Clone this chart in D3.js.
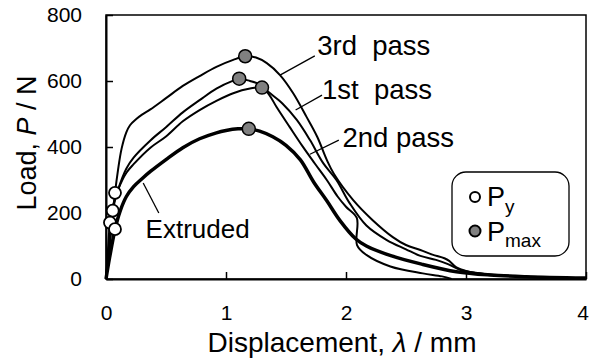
<!DOCTYPE html>
<html>
<head>
<meta charset="utf-8">
<script src="https://cdn.jsdelivr.net/npm/d3@7"></script>
<style>
  html, body { margin: 0; padding: 0; background: #fff; }
  svg { display: block; font-family: "Liberation Sans", Arial, sans-serif; }
</style>
</head>
<body>
<svg id="chart" width="589" height="360"></svg>
<script>
// ---- data (displacement mm, load N) ----
const xTicks = [0, 1, 2, 3, 4];
const yTicks = [0, 200, 400, 600, 800];

const pass3 = [[0,0],[0.02,60],[0.045,150],[0.075,260],[0.1,330],[0.13,395],[0.17,445],[0.2,466],[0.25,484],[0.3,498],[0.37,514],[0.5,548],[0.64,585],[0.78,615],[0.92,643],[1.06,664],[1.16,675],[1.25,671],[1.34,654],[1.45,618],[1.56,563],[1.67,492],[1.76,431],[1.84,361],[1.9,318],[2.06,239],[2.22,179],[2.39,127],[2.5,103],[2.62,88],[2.72,74],[2.82,63],[2.86,55],[2.92,35],[3.0,24],[3.2,13],[3.5,7],[4.0,2]];

const pass1 = [[0,0],[0.02,80],[0.056,207],[0.1,270],[0.17,335],[0.23,368],[0.37,420],[0.5,460],[0.64,505],[0.78,542],[0.92,577],[1.06,601],[1.11,607],[1.2,600],[1.28,590],[1.36,565],[1.47,532],[1.59,482],[1.7,421],[1.81,351],[1.92,300],[2.03,230],[2.17,162],[2.34,118],[2.5,90],[2.62,70],[2.75,58],[2.85,45],[2.95,28],[3.05,20],[3.3,11],[3.6,6],[4.0,2]];

const pass2 = [[0,0],[0.015,80],[0.033,170],[0.06,225],[0.1,270],[0.17,322],[0.23,348],[0.37,398],[0.5,432],[0.64,478],[0.78,512],[0.92,540],[1.06,563],[1.2,577],[1.3,580],[1.36,558],[1.42,522],[1.53,461],[1.64,401],[1.74,350],[1.84,300],[1.93,250],[2.0,219],[2.09,185],[2.092,103],[2.17,73],[2.37,38],[2.64,17],[2.8,8],[2.88,0]];

const extruded = [[0,0],[0.03,65],[0.075,150],[0.117,205],[0.17,250],[0.23,280],[0.3,304],[0.37,326],[0.5,362],[0.64,398],[0.78,425],[0.92,443],[1.0,450],[1.1,455],[1.19,455],[1.28,448],[1.39,431],[1.5,405],[1.62,361],[1.73,294],[1.84,237],[1.95,177],[2.08,122],[2.17,100],[2.38,70],[2.63,45],[2.92,22],[3.2,12],[3.5,7],[4.0,3]];

const pyPoints = [[0.075,261],[0.056,207],[0.033,171],[0.075,151]];
const pmaxPoints = [[1.16,675],[1.11,607],[1.30,580],[1.19,455]];

const curveLabels = ["3rd\u00a0\u00a0pass", "1st\u00a0\u00a0pass", "2nd pass", "Extruded"];
// leader anchors in data units: [point on curve, point near label]
const leaders = [
  [[1.45,618],[1.74,676]],
  [[1.58,512],[1.80,557]],
  [[1.70,378],[1.94,421]],
  [[0.31,291],[0.44,200]]
];
const labelPos = [[1.76,680],[1.80,545],[1.97,400],[0.33,123]];
const labelSize = [27.5, 27.5, 27.5, 26];

// ---- layout ----
const svg = d3.select("#chart");
const mLeft = 106, mRight = 586, mTop = 15, mBottom = 279;
const x = d3.scaleLinear().domain([0, 4]).range([mLeft, mRight]);
const y = d3.scaleLinear().domain([0, 800]).range([mBottom, mTop]);

// frame
svg.append("rect").attr("x", mLeft).attr("y", mTop)
  .attr("width", mRight - mLeft).attr("height", mBottom - mTop)
  .attr("fill", "none").attr("stroke", "#000").attr("stroke-width", 1.5);

// axes with inward ticks
const xAxis = d3.axisBottom(x).tickValues(xTicks).tickSizeInner(-7).tickSizeOuter(0).tickPadding(26).tickFormat(d3.format("d"));
const gx = svg.append("g").attr("transform", `translate(0,${mBottom})`).call(xAxis);
const yAxis = d3.axisLeft(y).tickValues(yTicks).tickSizeInner(-7).tickSizeOuter(0).tickPadding(24).tickFormat(d3.format("d"));
const gy = svg.append("g").attr("transform", `translate(${mLeft},0)`).call(yAxis);
[gx, gy].forEach(g => {
  g.select(".domain").attr("stroke", "#000").attr("stroke-width", 2);
  g.selectAll(".tick line").attr("stroke", "#000").attr("stroke-width", 1.5);
  g.selectAll(".tick text").attr("fill", "#000").attr("font-size", 21)
    .attr("font-family", "'Liberation Sans', Arial, sans-serif");
});
// keep the last x label inside the picture
gx.selectAll(".tick text").filter(d => d === 4).attr("text-anchor", "end").attr("x", 2.5);

// axis titles
svg.append("text").attr("x", (mLeft + mRight) / 2 - 4).attr("y", 352)
  .attr("text-anchor", "middle").attr("font-size", 28)
  .html('Displacement, <tspan font-style="italic">λ</tspan> / mm');
svg.append("text").attr("transform", `translate(36,${(mTop + mBottom) / 2 - 4}) rotate(-90)`)
  .attr("text-anchor", "middle").attr("font-size", 27)
  .html('Load, <tspan font-style="italic">P</tspan> / N');

// curves
const line = d3.line().x(d => x(d[0])).y(d => y(d[1])).curve(d3.curveCatmullRom.alpha(0.5));
const series = [
  {data: pass3, w: 2},
  {data: pass1, w: 2},
  {data: pass2, w: 2},
  {data: extruded, w: 3.5}
];
svg.append("g").selectAll("path").data(series).join("path")
  .attr("d", d => line(d.data)).attr("fill", "none")
  .attr("stroke", "#000").attr("stroke-width", d => d.w).attr("stroke-linejoin", "round");

// leaders and labels
svg.append("g").selectAll("line").data(leaders).join("line")
  .attr("x1", d => x(d[0][0])).attr("y1", d => y(d[0][1]))
  .attr("x2", d => x(d[1][0])).attr("y2", d => y(d[1][1]))
  .attr("stroke", "#000").attr("stroke-width", 1.3);
svg.append("g").selectAll("text").data(curveLabels).join("text")
  .attr("x", (d, i) => x(labelPos[i][0])).attr("y", (d, i) => y(labelPos[i][1]))
  .attr("font-size", (d, i) => labelSize[i]).text(d => d);

// markers
svg.append("g").selectAll("circle").data(pyPoints).join("circle")
  .attr("cx", d => x(d[0])).attr("cy", d => y(d[1])).attr("r", 6)
  .attr("fill", "#fff").attr("stroke", "#000").attr("stroke-width", 1.8);
svg.append("g").selectAll("circle").data(pmaxPoints).join("circle")
  .attr("cx", d => x(d[0])).attr("cy", d => y(d[1])).attr("r", 6.5)
  .attr("fill", "#808080").attr("stroke", "#000").attr("stroke-width", 1.5);

// legend
const lg = svg.append("g");
lg.append("rect").attr("x", 452).attr("y", 172).attr("width", 117).attr("height", 84)
  .attr("rx", 14).attr("ry", 14).attr("fill", "#fff").attr("stroke", "#000").attr("stroke-width", 1.3);
lg.append("circle").attr("cx", 475).attr("cy", 197).attr("r", 5)
  .attr("fill", "#fff").attr("stroke", "#000").attr("stroke-width", 2);
lg.append("circle").attr("cx", 475).attr("cy", 231).attr("r", 5.5)
  .attr("fill", "#808080").attr("stroke", "#000").attr("stroke-width", 2);
lg.append("text").attr("x", 487).attr("y", 206).attr("font-size", 27)
  .html('P<tspan font-size="19" dy="7">y</tspan>');
lg.append("text").attr("x", 487).attr("y", 241).attr("font-size", 27)
  .html('P<tspan font-size="19" dy="6">max</tspan>');
</script>
</body>
</html>
